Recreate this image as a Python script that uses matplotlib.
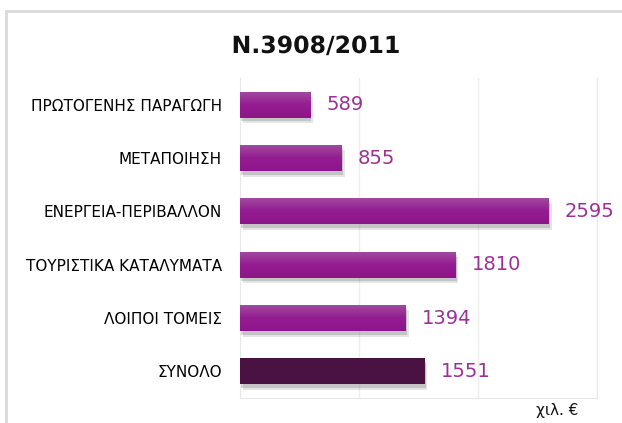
import matplotlib.pyplot as plt
import matplotlib.patheffects as pe
from matplotlib.patches import Rectangle
from matplotlib.colors import LinearSegmentedColormap
import numpy as np

categories = ["ΠΡΩΤΟΓΕΝΗΣ ΠΑΡΑΓΩΓΗ", "ΜΕΤΑΠΟΙΗΣΗ", "ΕΝΕΡΓΕΙΑ-ΠΕΡΙΒΑΛΛΟΝ",
              "ΤΟΥΡΙΣΤΙΚΑ ΚΑΤΑΛΥΜΑΤΑ", "ΛΟΙΠΟΙ ΤΟΜΕΙΣ", "ΣΥΝΟΛΟ"]
values = [589, 855, 2595, 1810, 1394, 1551]
title = "N.3908/2011"
unit = "χιλ. €"

fig = plt.figure(figsize=(6.22, 4.23), dpi=100)
fig.patches.append(Rectangle((6 / 622, -0.1), 1.2, 1 - 11 / 423 + 0.1,
                             transform=fig.transFigure, fill=False,
                             edgecolor="#d9d9d9", linewidth=2))
ax = fig.add_axes([240 / 622, 25 / 423, 357 / 622, 320 / 423])

y = np.arange(len(categories))
colors = ["#931c8f"] * (len(categories) - 1) + ["#4a1242"]
shadow = [pe.SimplePatchShadow(offset=(2, -4), shadow_rgbFace="#888888", alpha=0.22),
          pe.SimplePatchShadow(offset=(1, -2.5), shadow_rgbFace="#666666", alpha=0.25),
          pe.Normal()]
bars = ax.barh(y, values, height=0.49, color=colors, zorder=3, path_effects=shadow)

# soft gradient on the purple bars
cmap = LinearSegmentedColormap.from_list("g", ["#a04ea0", "#941e91", "#8e1489"])
grad = np.linspace(0, 1, 50).reshape(-1, 1)
for b in bars[:-1]:
    x0, y0, w, h = b.get_x(), b.get_y(), b.get_width(), b.get_height()
    im = ax.imshow(grad, extent=(x0, x0 + w, y0 + h, y0), aspect="auto", cmap=cmap, zorder=4)
    im.set_clip_path(b)

for yi, v in zip(y, values):
    ax.text(v + 135, yi, f"{v}", va="center", ha="left", fontsize=14, color="#9b3197", zorder=5)

ax.set_xlim(0, 3000)
ax.set_ylim(len(categories) - 0.5, -0.5)
ax.set_xticks([1000, 2000, 3000])
ax.xaxis.grid(True, color="#eeeeee", linewidth=1, zorder=0)
ax.tick_params(axis="x", length=0, labelbottom=False)
ax.tick_params(axis="y", length=0, pad=13)
ax.set_yticks(y)
ax.set_yticklabels(categories, fontsize=11, color="#000000")
for s in ax.spines.values():
    s.set_color("#e8e8e8")
ax.spines["top"].set_visible(False)

fig.text(316 / 622, 1 - 46 / 423, title, ha="center", va="center", fontsize=17,
         fontweight="bold", color="#111111",
         path_effects=[pe.SimpleLineShadow(offset=(1.5, -1.5), shadow_color="#888888", alpha=0.5),
                       pe.Normal()])
fig.text(557 / 622, 1 - 410 / 423, unit, ha="center", va="center", fontsize=11, color="#111111")

fig.savefig("out.png", dpi=100)
